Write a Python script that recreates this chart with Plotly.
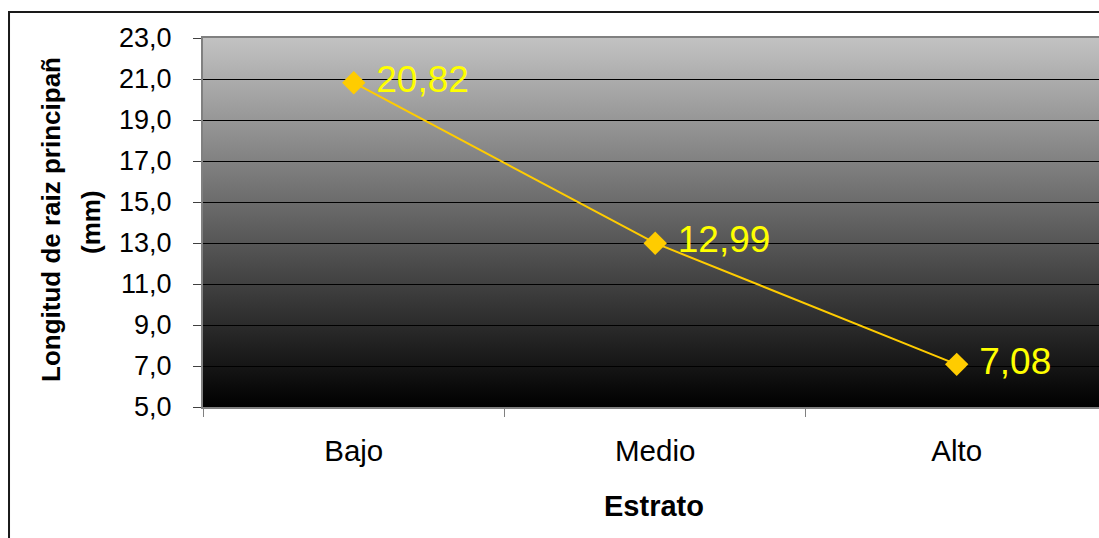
import base64
import plotly.graph_objects as go

# Root length by stratum
estratos = ["Bajo", "Medio", "Alto"]
longitud_mm = [20.82, 12.99, 7.08]

y_ticks = [5.0, 7.0, 9.0, 11.0, 13.0, 15.0, 17.0, 19.0, 21.0, 23.0]

FONT = "Arial, Liberation Sans, sans-serif"

# vertical grey-to-black gradient for the plotting area
svg = (
    '<svg xmlns="http://www.w3.org/2000/svg" width="100" height="100" '
    'preserveAspectRatio="none">'
    '<defs><linearGradient id="g" x1="0" y1="0" x2="0" y2="1">'
    '<stop offset="0" stop-color="#c2c2c2"/>'
    '<stop offset="1" stop-color="#000000"/>'
    '</linearGradient></defs>'
    '<rect width="100" height="100" fill="url(#g)"/></svg>'
)
gradient_uri = "data:image/svg+xml;base64," + base64.b64encode(svg.encode()).decode()

labels = [" " + f"{v:.2f}".replace(".", ",") for v in longitud_mm]

fig = go.Figure(
    go.Scatter(
        x=estratos,
        y=longitud_mm,
        mode="lines+markers+text",
        line=dict(color="#FFCC00", width=2),
        marker=dict(symbol="diamond", size=18, color="#FFCC00"),
        text=labels,
        textposition="middle right",
        textfont=dict(family=FONT, size=37, color="#FFFF00"),
        cliponaxis=False,
        hoverinfo="skip",
    )
)

fig.update_layout(
    width=1099,
    height=538,
    margin=dict(l=203, r=0, t=38, b=131),
    paper_bgcolor="white",
    plot_bgcolor="rgba(0,0,0,0)",
    separators=",.",
    showlegend=False,
    font=dict(family=FONT, color="black"),
    images=[
        dict(
            source=gradient_uri,
            xref="paper", yref="paper",
            x=0, y=1, sizex=1, sizey=1,
            xanchor="left", yanchor="top",
            sizing="stretch", layer="below",
        )
    ],
    shapes=[
        # outer chart frame
        dict(
            type="rect", xref="paper", yref="paper",
            x0=-0.2165, y0=-0.5, x1=1.2, y1=1.0705,
            line=dict(color="#1a1a1a", width=2), fillcolor="rgba(0,0,0,0)",
            layer="below",
        )
    ],
    annotations=[
        dict(
            text="<b>Longitud de raiz principañ</b>",
            xref="paper", yref="paper",
            x=(51 - 203) / 896, y=(407 - 220) / 369,
            xanchor="center", yanchor="middle",
            textangle=-90, showarrow=False,
            font=dict(family=FONT, size=26, color="black"),
        ),
        dict(
            text="<b>(mm)</b>",
            xref="paper", yref="paper",
            x=(91 - 203) / 896, y=(407 - 222) / 369,
            xanchor="center", yanchor="middle",
            textangle=-90, showarrow=False,
            font=dict(family=FONT, size=26, color="black"),
        ),
        dict(
            text="<b>Estrato</b>",
            xref="paper", yref="paper",
            x=(654 - 203) / 896, y=(407 - 506) / 369,
            xanchor="center", yanchor="middle",
            showarrow=False,
            font=dict(family=FONT, size=29, color="black"),
        ),
    ],
)

fig.update_xaxes(
    type="category",
    range=[-0.5, 2.472],
    showgrid=False,
    showline=True, linecolor="#808080", linewidth=2, mirror=True,
    ticks="outside", ticklen=8, tickcolor="#808080", tickwidth=1,
    tickson="boundaries",
    tickfont=dict(family=FONT, size=29.5, color="black"),
    ticklabelstandoff=17,
)

fig.update_yaxes(
    range=[5, 23],
    tickvals=y_ticks,
    tickformat=".1f",
    showgrid=True, gridcolor="#000000", gridwidth=1,
    zeroline=False,
    showline=True, linecolor="#808080", linewidth=2,
    ticks="outside", ticklen=8, tickcolor="#404040", tickwidth=1,
    tickfont=dict(family=FONT, size=27, color="black"),
    ticklabelstandoff=16,
)

fig.write_html("out.html")
